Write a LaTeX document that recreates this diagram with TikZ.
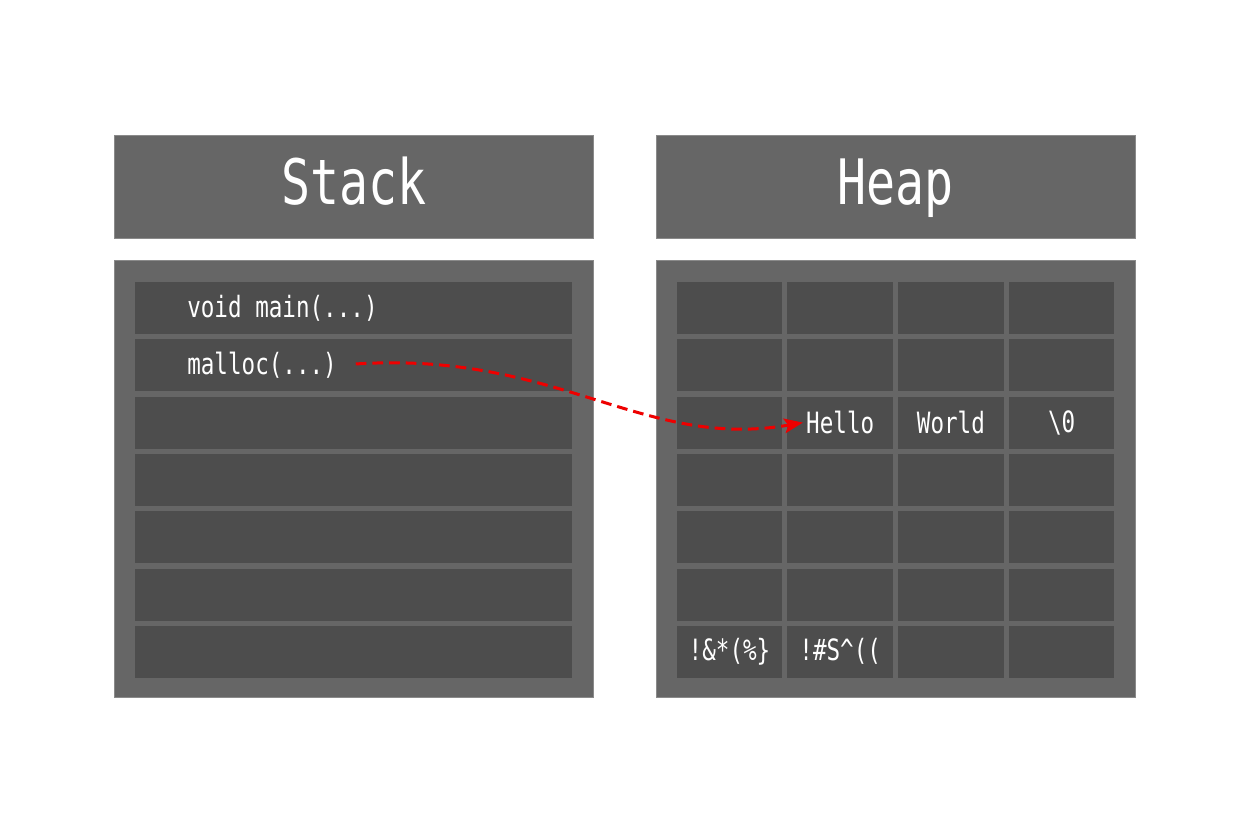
\documentclass[tikz,border=0pt]{standalone}
\usepackage{fontspec}
\newfontfamily\codefont[FakeStretch=0.77]{DejaVu Sans Mono}
\usetikzlibrary{arrows.meta}
\definecolor{boxgray}{HTML}{666666}
\definecolor{cellgray}{HTML}{4D4D4D}
\definecolor{edgegray}{HTML}{8A8A8A}
\definecolor{arrowred}{HTML}{EE0000}
\tikzset{
  header/.style={fill=boxgray, draw=edgegray, line width=0.75pt, minimum width=359.25pt, minimum height=77.25pt, inner sep=0pt},
  headtext/.style={text=white, inner sep=0pt, anchor=base, font=\codefont\fontsize{47}{50}\selectfont},
  body/.style={fill=boxgray, draw=edgegray, line width=0.75pt, minimum width=359.25pt, minimum height=327pt, inner sep=0pt},
  stackrow/.style={fill=cellgray, draw=none, minimum width=327.75pt, minimum height=39pt, inner sep=0pt},
  heapcell/.style={fill=cellgray, draw=none, minimum width=79.1pt, minimum height=39pt, inner sep=0pt, text=white, font=\codefont\fontsize{22}{26}\selectfont},
  rowtext/.style={text=white, inner sep=0pt, anchor=west, font=\codefont\fontsize{22}{26}\selectfont},
  pointer/.style={draw=arrowred, line width=2.25pt, dash pattern=on 8pt off 4.5pt, -{Stealth[length=14pt,width=11pt,inset=3pt]}}
}
\begin{document}
\begin{tikzpicture}[x=0.75pt,y=-0.75pt]
\useasboundingbox[fill=white] (0,0) rectangle (1250,834);
% headers
\node[header] (stackhead) at (354,187.5) {};
\node[header] (heaphead) at (895.5,187.5) {};
\node[headtext] (stacklabel) at (354,205) {Stack};
\node[headtext] (heaplabel) at (895.5,205) {Heap};
% bodies
\node[body] (stackbody) at (354,479) {};
\node[body] (heapbody) at (895.5,479) {};
% stack rows
\foreach \i in {0,...,6}{
  \node[stackrow] (s\i) at (353.5,{308+\i*57.3}) {};
}
\node[rowtext] (mainfn) at (187,308) {void main(...)};
\node[rowtext] (malloc) at (187,365.3) {malloc(...)};
% heap cells
\foreach \r in {0,...,6}{
  \foreach \c in {0,...,3}{
    \node[heapcell] (h\r\c) at ({729.5+\c*110.7},{308+\r*57.3}) {};
  }
}
\node[heapcell, fill=none] (hello) at (h21) {Hello};
\node[heapcell, fill=none] (world) at (h22) {World};
\node[heapcell, fill=none] (nul) at (h23) {\textbackslash 0};
\node[heapcell, fill=none] (junka) at (h60) {!\&*(\%\}};
\node[heapcell, fill=none] (junkb) at (h61) {!\#S\^{}((};
% pointer
\draw[pointer] ([xshift=14pt,yshift=1pt]malloc.east) .. controls +(203,-13) and +(-160,28) .. ([xshift=-28pt]hello.center);
\end{tikzpicture}
\end{document}
